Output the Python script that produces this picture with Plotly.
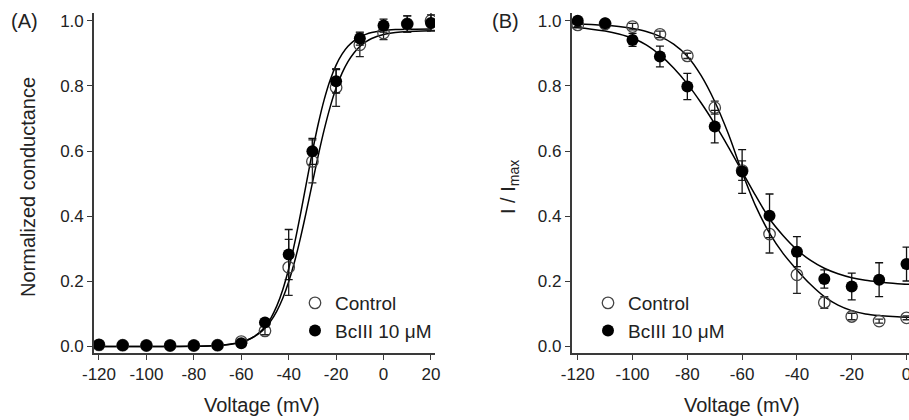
import plotly.graph_objects as go

# ---------------- Panel A: activation (normalized conductance) ----------------
V_A = [-120, -110, -100, -90, -80, -70, -60, -50, -40, -30, -20, -10, 0, 10, 20]
ctrl_A = [0.005, 0.004, 0.003, 0.003, 0.003, 0.004, 0.015, 0.048, 0.243, 0.568, 0.795, 0.926, 0.962, 0.99, 1.0]
ctrl_A_err = [0.003, 0.002, 0.002, 0.002, 0.002, 0.002, 0.006, 0.012, 0.086, 0.066, 0.058, 0.036, 0.02, 0.025, 0.03]
bc_A = [0.005, 0.004, 0.003, 0.003, 0.003, 0.004, 0.01, 0.074, 0.282, 0.599, 0.814, 0.945, 0.985, 0.99, 0.993]
bc_A_err = [0.003, 0.002, 0.002, 0.002, 0.002, 0.002, 0.006, 0.01, 0.077, 0.04, 0.036, 0.02, 0.02, 0.025, 0.025]

# fitted Boltzmann curves
fitV_A = [-120, -100, -80, -70, -65, -60, -57.5, -55, -52.5, -50, -47.5, -45, -42.5, -40,
          -37.5, -35, -32.5, -30, -27.5, -25, -22.5, -20, -17.5, -15, -12.5, -10, -7.5, -5,
          0, 5, 10, 20]
fit_ctrl_A = [0.0, 0.0001, 0.0008, 0.0034, 0.007, 0.0141, 0.0201, 0.0285, 0.0401, 0.0564,
              0.0786, 0.1086, 0.148, 0.1986, 0.2609, 0.3343, 0.4161, 0.5023, 0.5874, 0.6663,
              0.7355, 0.7931, 0.839, 0.8744, 0.9011, 0.9208, 0.935, 0.9452, 0.9577, 0.9639,
              0.967, 0.9693]
fit_bc_A = [0.0, 0.0, 0.0006, 0.0027, 0.0059, 0.013, 0.0193, 0.0283, 0.0416, 0.0606,
            0.0874, 0.1246, 0.1744, 0.2386, 0.3171, 0.4071, 0.503, 0.5978, 0.6845, 0.7585,
            0.818, 0.8636, 0.8971, 0.9212, 0.9382, 0.9499, 0.958, 0.9635, 0.9698, 0.9726,
            0.9739, 0.9748]

# ---------------- Panel B: steady-state inactivation (I / Imax) ----------------
V_B = [-120, -110, -100, -90, -80, -70, -60, -50, -40, -30, -20, -10, 0]
ctrl_B = [0.987, 0.99, 0.982, 0.958, 0.892, 0.733, 0.54, 0.345, 0.22, 0.135, 0.092, 0.078, 0.088]
ctrl_B_err = [0.005, 0.005, 0.01, 0.01, 0.008, 0.02, 0.03, 0.058, 0.057, 0.018, 0.01, 0.006, 0.006]
bc_B = [1.0, 0.992, 0.941, 0.89, 0.798, 0.675, 0.537, 0.401, 0.291, 0.207, 0.184, 0.205, 0.253]
bc_B_err = [0.005, 0.005, 0.02, 0.032, 0.04, 0.05, 0.067, 0.067, 0.046, 0.028, 0.041, 0.052, 0.052]

fitV_B = [-122.2, -120, -115, -110, -105, -100, -95, -90, -85, -80, -75, -70, -65, -60,
          -55, -50, -45, -40, -35, -30, -25, -20, -15, -10, -5, 0, 1]
fit_ctrl_B = [0.991, 0.99, 0.988, 0.986, 0.982, 0.976, 0.967, 0.952, 0.928, 0.891, 0.832,
              0.752, 0.652, 0.535, 0.43, 0.348, 0.285, 0.235, 0.19, 0.153, 0.127, 0.11,
              0.1, 0.095, 0.092, 0.09, 0.09]
fit_bc_B = [0.979, 0.978, 0.974, 0.968, 0.959, 0.946, 0.926, 0.895, 0.855, 0.806, 0.748,
            0.683, 0.612, 0.537, 0.462, 0.392, 0.34, 0.297, 0.264, 0.24, 0.223, 0.211,
            0.203, 0.198, 0.194, 0.191, 0.191]

x_ticks_A = [-120, -100, -80, -60, -40, -20, 0, 20]
x_ticks_B = [-120, -100, -80, -60, -40, -20, 0]
y_ticks = [0.0, 0.2, 0.4, 0.6, 0.8, 1.0]

FONT = "Liberation Sans, Arial, sans-serif"
AX = "#3a3a3a"
W, H = 909, 420

fig = go.Figure()


def add_panel(xa, ya, legend, V, ctrl, ctrl_err, bc, bc_err, fitV, fit_ctrl, fit_bc):
    for fy in (fit_ctrl, fit_bc):
        fig.add_trace(go.Scatter(x=fitV, y=fy, mode="lines", xaxis=xa, yaxis=ya,
                                 line=dict(color="black", width=1.5, shape="spline", smoothing=0.8),
                                 showlegend=False, hoverinfo="skip"))
    fig.add_trace(go.Scatter(x=V, y=ctrl, mode="markers", xaxis=xa, yaxis=ya, name="Control",
                             legend=legend,
                             marker=dict(symbol="circle-open", size=11.5, color="#444",
                                         line=dict(width=1.3, color="#444")),
                             error_y=dict(type="data", array=ctrl_err, visible=True,
                                          color="#222", thickness=1.3, width=4)))
    fig.add_trace(go.Scatter(x=V, y=bc, mode="markers", xaxis=xa, yaxis=ya, name="BcIII 10 μM",
                             legend=legend,
                             marker=dict(symbol="circle", size=12, color="black"),
                             error_y=dict(type="data", array=bc_err, visible=True,
                                          color="#111", thickness=1.3, width=4)))


add_panel("x", "y", "legend", V_A, ctrl_A, ctrl_A_err, bc_A, bc_A_err, fitV_A, fit_ctrl_A, fit_bc_A)
add_panel("x2", "y2", "legend2", V_B, ctrl_B, ctrl_B_err, bc_B, bc_B_err, fitV_B, fit_ctrl_B, fit_bc_B)

axis_common = dict(showline=True, linecolor=AX, linewidth=1.6, ticks="outside", ticklen=5,
                   tickwidth=1.4, tickcolor=AX, showgrid=False, zeroline=False,
                   automargin=False, ticklabeloverflow="allow",
                   tickfont=dict(family=FONT, size=17, color="#222"))

y_dom = [(H - 353) / H, (H - 13) / H]
y_rng = [-0.020, 1.0236]


def label(text, x, y, angle=0):
    return dict(text=text, x=x / W, y=1 - y / H, xref="paper", yref="paper",
                xanchor="center", yanchor="middle", showarrow=False, textangle=angle,
                font=dict(family=FONT, size=20, color="#222"))


fig.update_layout(
    width=W, height=H,
    margin=dict(l=0, r=0, t=0, b=0),
    paper_bgcolor="white", plot_bgcolor="white",
    font=dict(family=FONT, color="#222"),
    xaxis=dict(domain=[94 / W, 435 / W], range=[-122.1, 21.7], tickvals=x_ticks_A,
               ticktext=[str(v) for v in x_ticks_A], anchor="y", **axis_common),
    yaxis=dict(domain=y_dom, range=y_rng, tickvals=y_ticks,
               ticktext=[f"{v:.1f}" for v in y_ticks], anchor="x", **axis_common),
    xaxis2=dict(domain=[571.7 / W, 1.0], range=[-122.2, 0.9], tickvals=x_ticks_B,
                ticktext=[str(v) for v in x_ticks_B], anchor="y2", **axis_common),
    yaxis2=dict(domain=y_dom, range=y_rng, tickvals=y_ticks,
                ticktext=[f"{v:.1f}" for v in y_ticks], anchor="x2", **axis_common),
    legend=dict(x=295 / W, y=1 - 284 / H, xanchor="left", yanchor="top",
                bgcolor="rgba(0,0,0,0)", font=dict(family=FONT, size=19, color="#222"),
                itemsizing="trace"),
    legend2=dict(x=588 / W, y=1 - 284 / H, xanchor="left", yanchor="top",
                 bgcolor="rgba(0,0,0,0)", font=dict(family=FONT, size=19, color="#222"),
                 itemsizing="trace"),
    annotations=[
        label("(A)", 24, 21),
        label("(B)", 505, 21),
        label("Voltage (mV)", 262, 405),
        label("Voltage (mV)", 742, 405),
        label("Normalized conductance", 28, 187, -90),
        label("I / I<sub>max</sub>", 509, 187, -90),
    ],
)

fig.write_html("out.html", config={"displayModeBar": False},
               post_script="document.body.style.margin='0';document.body.style.overflow='hidden';")
